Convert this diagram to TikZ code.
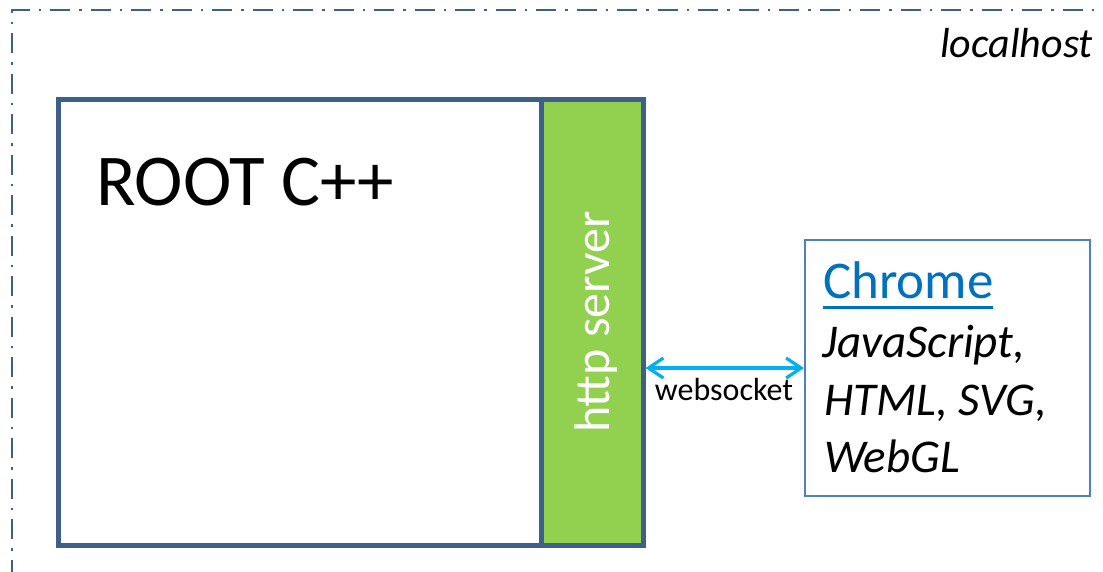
\documentclass[tikz,border=0pt]{standalone}
\usepackage{fontspec}
\setmainfont{Carlito}
\usetikzlibrary{arrows.meta}
\definecolor{frame}{HTML}{3E5F8A}
\definecolor{srvgreen}{HTML}{92D050}
\definecolor{wsblue}{HTML}{00B0F0}
\definecolor{chromeedge}{HTML}{4F81BD}
\definecolor{chromeblue}{HTML}{0070C0}
\tikzset{
  hostframe/.style={draw=frame, line width=2.6pt, dash pattern=on 20pt off 9pt on 2.5pt off 9pt},
  rootbox/.style={draw=frame, fill=white, line width=5pt, inner sep=0pt},
  srvbox/.style={draw=frame, fill=srvgreen, line width=5pt, inner sep=0pt},
  chromebox/.style={draw=chromeedge, fill=white, line width=2pt, inner sep=0pt},
  txt/.style={inner sep=0pt, outer sep=0pt},
  wslink/.style={draw=wsblue, line width=3.2pt, {Straight Barb[length=15pt,width=20pt]}-{Straight Barb[length=15pt,width=20pt]}}
}
\begin{document}
\begin{tikzpicture}[x=1pt,y=-1pt]
\useasboundingbox (0,0) rectangle (1103,571);
\clip (0,0) rectangle (1103,571);
% localhost frame
\coordinate (hbl) at (12,620);
\coordinate (htl) at (12,10);
\coordinate (htr) at (1150,10);
\draw[hostframe] (hbl) -- (htl) -- (htr);
\node[txt, anchor=base east, font=\fontsize{42}{50}\selectfont\itshape] (localhost) at (1093,57) {localhost};
% ROOT box
\node[rootbox, minimum width=585pt, minimum height=446pt] (root) at (350.5,322.5) {};
\node[srvbox, minimum width=102pt, minimum height=446pt] (http) at (592,322.5) {};
\node[txt, rotate=90, text=white, font=\fontsize{50}{56}\selectfont] (httplabel) at (596,322) {http server};
\node[txt, anchor=base west, font=\fontsize{73}{80}\selectfont] (rootlabel) at (96,205) {ROOT C++};
% Chrome box
\node[chromebox, minimum width=285pt, minimum height=256pt] (chrome) at (947.5,368) {};
\node[txt, anchor=base west, text=chromeblue, font=\fontsize{53}{60}\selectfont] (title) at (823,298) {Chrome};
\draw[chromeblue, line width=3pt] ([yshift=-9pt]title.base west) -- ([yshift=-9pt]title.base east);
\node[txt, anchor=base west, font=\fontsize{47}{54}\selectfont\itshape] (l1) at (822,357) {JavaScript,};
\node[txt, anchor=base west, font=\fontsize{47}{54}\selectfont\itshape] (l2) at (824,415) {HTML, SVG,};
\node[txt, anchor=base west, font=\fontsize{47}{54}\selectfont\itshape] (l3) at (824,472) {WebGL};
% websocket link
\draw[wslink] (chrome.west -| http.east) -- (chrome.west);
\node[txt, font=\fontsize{32}{38}\selectfont, anchor=base] (ws) at (724,400) {websocket};
\end{tikzpicture}
\end{document}
